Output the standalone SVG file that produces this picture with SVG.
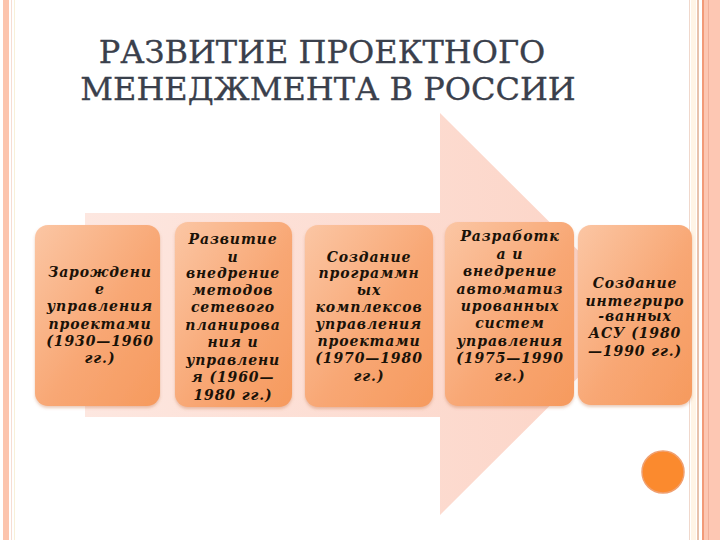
<svg xmlns="http://www.w3.org/2000/svg" width="720" height="540" viewBox="0 0 720 540">
<defs>
<linearGradient id="boxg" x1="0" y1="0" x2="1" y2="1">
<stop offset="0" stop-color="#fbc6a4"/>
<stop offset="0.55" stop-color="#f8a774"/>
<stop offset="1" stop-color="#f69a5e"/>
</linearGradient>
<linearGradient id="arrg" x1="0" y1="0" x2="1" y2="0">
<stop offset="0" stop-color="#fde7e0"/>
<stop offset="1" stop-color="#fcd3c5"/>
</linearGradient>
<filter id="sh" x="-10%" y="-10%" width="120%" height="120%">
<feDropShadow dx="0" dy="2" stdDeviation="1.5" flood-color="#c06a3a" flood-opacity="0.35"/>
</filter>
<style>
.box{fill:url(#boxg);filter:url(#sh)}
.t{font-family:"DejaVu Serif",serif;font-style:italic;font-weight:bold;font-size:14px;fill:#1a1208;text-anchor:middle;letter-spacing:0.9px}
.title{font-family:"DejaVu Serif",serif;font-size:32px;fill:#3a404c;text-anchor:middle;stroke:#3a404c;stroke-width:0.3px}
</style>
</defs>
<rect width="720" height="540" fill="#ffffff"/>
<g id="border">
<rect x="3" y="0" width="6" height="540" fill="#fcc4ad"/>
<rect x="11" y="0" width="1" height="540" fill="#f6ddd3"/>
<rect x="14" y="0" width="1" height="540" fill="#f8f0d8"/>
<rect x="689" y="0" width="1" height="540" fill="#f0d8cc"/>
<rect x="691" y="0" width="5" height="540" fill="#fff4e6"/>
<rect x="697" y="0" width="2" height="540" fill="#e8c2ad"/>
<rect x="702" y="0" width="2" height="540" fill="#f29a78"/>
<rect x="704" y="0" width="4" height="540" fill="#fcc6b2"/>
<rect x="708" y="0" width="1" height="540" fill="#f0b09a"/>
<rect x="709" y="0" width="11" height="540" fill="#fdc7b3"/>
</g>
<g id="title">
<text class="title" x="322" y="63">РАЗВИТИЕ ПРОЕКТНОГО</text>
<text class="title" x="328" y="100">МЕНЕДЖМЕНТА В РОССИИ</text>
</g>
<g id="timeline-arrow">
<path d="M85,213 H440 V113 L642,314 L440,515 V417 H85 Z" fill="url(#arrg)"/>
</g>
<g id="connectors"/>
<g id="node1">
<rect class="box" x="35" y="225" width="125" height="181" rx="13"/>
<text class="t" x="100" y="277">Зарождени</text>
<text class="t" x="100" y="294">е</text>
<text class="t" x="100" y="311">управления</text>
<text class="t" x="100" y="329">проектами</text>
<text class="t" x="100" y="346">(1930—1960</text>
<text class="t" x="100" y="363">гг.)</text>
</g>
<g id="node2">
<rect class="box" x="175" y="222" width="117" height="185" rx="13"/>
<text class="t" x="233" y="244">Развитие</text>
<text class="t" x="233" y="262">и</text>
<text class="t" x="233" y="278">внедрение</text>
<text class="t" x="233" y="295">методов</text>
<text class="t" x="233" y="312">сетевого</text>
<text class="t" x="233" y="330">планирова</text>
<text class="t" x="233" y="347">ния и</text>
<text class="t" x="233" y="365">управлени</text>
<text class="t" x="233" y="382">я (1960—</text>
<text class="t" x="233" y="400">1980 гг.)</text>
</g>
<g id="node3">
<rect class="box" x="305" y="225" width="128" height="182" rx="13"/>
<text class="t" x="369" y="262">Создание</text>
<text class="t" x="369" y="278">программн</text>
<text class="t" x="369" y="295">ых</text>
<text class="t" x="369" y="312">комплексов</text>
<text class="t" x="369" y="329">управления</text>
<text class="t" x="369" y="346">проектами</text>
<text class="t" x="369" y="363">(1970—1980</text>
<text class="t" x="369" y="381">гг.)</text>
</g>
<g id="node4">
<rect class="box" x="445" y="222" width="129" height="184" rx="13"/>
<text class="t" x="510" y="241">Разработк</text>
<text class="t" x="510" y="259">а и</text>
<text class="t" x="510" y="276">внедрение</text>
<text class="t" x="510" y="294">автоматиз</text>
<text class="t" x="510" y="311">ированных</text>
<text class="t" x="510" y="328">систем</text>
<text class="t" x="510" y="346">управления</text>
<text class="t" x="510" y="363">(1975—1990</text>
<text class="t" x="510" y="381">гг.)</text>
</g>
<g id="node5">
<rect class="box" x="578" y="225" width="114" height="180" rx="13"/>
<text class="t" x="635" y="288">Создание</text>
<text class="t" x="635" y="306">интегриро</text>
<text class="t" x="635" y="321">-ванных</text>
<text class="t" x="635" y="338">АСУ (1980</text>
<text class="t" x="635" y="356">—1990 гг.)</text>
</g>
<g id="dot">
<circle cx="663" cy="472" r="21" fill="#fb8a2e" stroke="#f0a070" stroke-width="1.5"/>
</g>
</svg>
